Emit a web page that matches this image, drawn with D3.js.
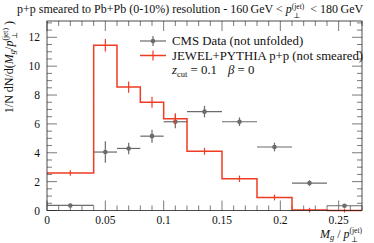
<!DOCTYPE html>
<html>
<head>
<meta charset="utf-8">
<script src="https://cdn.jsdelivr.net/npm/d3@7"></script>
<style>
  body { margin: 0; background: #fff; }
  text { font-family: "Liberation Serif", "DejaVu Serif", serif; fill: #111; }
</style>
</head>
<body>
<div id="chart"></div>
<script>
// bin edges along M_g / p_T
var binEdges = [0, 0.04, 0.06, 0.08, 0.1, 0.12, 0.15, 0.18, 0.21, 0.24, 0.27];
// CMS data (not unfolded)
var cmsValues = [0.35, 4.05, 4.3, 5.15, 6.15, 6.85, 6.15, 4.4, 1.9, 0.33];
var cmsErrors = [0.1, 0.75, 0.4, 0.45, 0.45, 0.4, 0.3, 0.3, 0.2, 0.1];
// JEWEL+PYTHIA p+p (not smeared)
var jewelValues = [2.6, 11.45, 8.55, 7.5, 6.35, 4.1, 2.2, 0.9, 0.03, 0];
var jewelErrors = [0.05, 0.3, 0.25, 0.25, 0.25, 0.1, 0.08, 0.06, 0.02, 0];

var xTicks = [0, 0.05, 0.1, 0.15, 0.2, 0.25];
var xTickLabels = ["0", "0.05", "0.1", "0.15", "0.2", "0.25"];
var yTicks = [0, 2, 4, 6, 8, 10, 12];

var width = 374, height = 243;
var pLeft = 47, pRight = 362, pTop = 21, pBottom = 210.5;

var svg = d3.select("#chart").append("svg")
  .attr("width", width).attr("height", height);

var x = d3.scaleLinear().domain([0, 0.27]).range([pLeft, pRight]);
var y = d3.scaleLinear().domain([0, 13.13]).range([pBottom, pTop]);

var red = "#ee3b22", grey = "#6b6b6b";

var bins = binEdges.slice(0, -1).map(function(lo, i) {
  return {lo: lo, hi: binEdges[i + 1], mid: (lo + binEdges[i + 1]) / 2,
          cms: cmsValues[i], cmsErr: cmsErrors[i],
          jw: jewelValues[i], jwErr: jewelErrors[i]};
});

// ticks: inward on all four sides
var minorX = d3.range(0, 0.2701, 0.01);
var minorY = d3.range(0, 13.01, 0.5);
var tickG = svg.append("g").attr("stroke", "#222").attr("stroke-width", 0.6);
minorX.forEach(function(v) {
  var major = xTicks.some(function(t) { return Math.abs(t - v) < 1e-6; });
  var len = major ? 10 : 5;
  tickG.append("line").attr("x1", x(v)).attr("x2", x(v)).attr("y1", pBottom).attr("y2", pBottom - len);
  tickG.append("line").attr("x1", x(v)).attr("x2", x(v)).attr("y1", pTop).attr("y2", pTop + len);
});
minorY.forEach(function(v) {
  var major = yTicks.indexOf(Math.round(v * 10) / 10) >= 0;
  var len = major ? 10 : 5;
  tickG.append("line").attr("y1", y(v)).attr("y2", y(v)).attr("x1", pLeft).attr("x2", pLeft + len);
  tickG.append("line").attr("y1", y(v)).attr("y2", y(v)).attr("x1", pRight).attr("x2", pRight - len);
});

// CMS data: horizontal bin bars, vertical errors, markers
var cms = svg.append("g").attr("stroke", grey).attr("stroke-width", 1.2);
cms.selectAll(".hbar").data(bins).enter().append("line")
  .attr("x1", function(d) { return x(d.lo); })
  .attr("x2", function(d) { return x(d.hi); })
  .attr("y1", function(d) { return y(d.cms); })
  .attr("y2", function(d) { return y(d.cms); });
cms.selectAll(".vbar").data(bins).enter().append("line")
  .attr("x1", function(d) { return x(d.mid); })
  .attr("x2", function(d) { return x(d.mid); })
  .attr("y1", function(d) { return y(d.cms - d.cmsErr); })
  .attr("y2", function(d) { return y(d.cms + d.cmsErr); });
svg.selectAll(".cmsdot").data(bins).enter().append("circle")
  .attr("cx", function(d) { return x(d.mid); })
  .attr("cy", function(d) { return y(d.cms); })
  .attr("r", 2.3).attr("fill", grey);

// JEWEL histogram as step line
var steps = [];
bins.forEach(function(d) { steps.push([d.lo, d.jw]); steps.push([d.hi, d.jw]); });
svg.append("path")
  .attr("d", d3.line().x(function(p) { return x(p[0]); }).y(function(p) { return y(p[1]); })(steps))
  .attr("fill", "none").attr("stroke", red).attr("stroke-width", 1.5);
svg.selectAll(".jwerr").data(bins).enter().append("line")
  .attr("x1", function(d) { return x(d.mid); })
  .attr("x2", function(d) { return x(d.mid); })
  .attr("y1", function(d) { return y(d.jw - d.jwErr) + 2; })
  .attr("y2", function(d) { return y(d.jw + d.jwErr) - 2; })
  .attr("stroke", red).attr("stroke-width", 1.2);

// frame
svg.append("rect").attr("x", pLeft).attr("y", pTop)
  .attr("width", pRight - pLeft).attr("height", pBottom - pTop)
  .attr("fill", "none").attr("stroke", "#222").attr("stroke-width", 0.8);

// tick labels
svg.selectAll(".xl").data(xTicks).enter().append("text")
  .attr("x", function(d) { return x(d); }).attr("y", 224)
  .attr("text-anchor", "middle").attr("font-size", 11.5)
  .text(function(d, i) { return xTickLabels[i]; });
svg.selectAll(".yl").data(yTicks).enter().append("text")
  .attr("x", 40).attr("y", function(d) { return y(d) + 4; })
  .attr("text-anchor", "end").attr("font-size", 11.5)
  .text(function(d) { return d; });

// title
var title = svg.append("text").attr("x", 17).attr("y", 13).attr("font-size", 12);
title.append("tspan").text("p+p smeared to Pb+Pb (0-10%) resolution - 160\u2009GeV < ");
title.append("tspan").attr("font-style", "italic").text("p");
title.append("tspan").attr("font-size", 7.5).attr("dy", -4.5).text("(jet)");
title.append("tspan").attr("font-size", 7.5).attr("dx", -11).attr("dy", 9).text("\u22a5");
title.append("tspan").attr("dx", 7).attr("dy", -4.5).text(" < 180\u2009GeV");

// x label
var xl = svg.append("text").attr("x", pRight).attr("y", 238)
  .attr("text-anchor", "end").attr("font-size", 12);
xl.append("tspan").attr("font-style", "italic").text("M");
xl.append("tspan").attr("font-style", "italic").attr("font-size", 8.5).attr("dy", 2).text("g");
xl.append("tspan").attr("dy", -2).text(" / ");
xl.append("tspan").attr("font-style", "italic").text("p");
xl.append("tspan").attr("font-size", 7.5).attr("dy", -5).text("(jet)");
xl.append("tspan").attr("font-size", 7.5).attr("dx", -11).attr("dy", 9).text("\u22a5");

// y label
var yl = svg.append("text").attr("transform", "translate(13," + pTop + ") rotate(-90)")
  .attr("text-anchor", "end").attr("font-size", 12);
yl.append("tspan").text("1/N dN/d(");
yl.append("tspan").attr("font-style", "italic").text("M");
yl.append("tspan").attr("font-style", "italic").attr("font-size", 8.5).attr("dy", 2).text("g");
yl.append("tspan").attr("dy", -2).text("/");
yl.append("tspan").attr("font-style", "italic").text("p");
yl.append("tspan").attr("font-size", 7.5).attr("dy", -5).text("(jet)");
yl.append("tspan").attr("font-size", 7.5).attr("dx", -11).attr("dy", 9).text("\u22a5");
yl.append("tspan").attr("dx", 7).attr("dy", -4).text(")");

// legend
var lg = svg.append("g");
lg.append("line").attr("x1", 140).attr("x2", 166).attr("y1", 41).attr("y2", 41)
  .attr("stroke", grey).attr("stroke-width", 1.2);
lg.append("line").attr("x1", 153).attr("x2", 153).attr("y1", 36).attr("y2", 46)
  .attr("stroke", grey).attr("stroke-width", 1.2);
lg.append("circle").attr("cx", 153).attr("cy", 41).attr("r", 2.3).attr("fill", grey);
lg.append("line").attr("x1", 140).attr("x2", 166).attr("y1", 55.5).attr("y2", 55.5)
  .attr("stroke", red).attr("stroke-width", 1.5);
lg.append("line").attr("x1", 153).attr("x2", 153).attr("y1", 50.5).attr("y2", 60.5)
  .attr("stroke", red).attr("stroke-width", 1.2);
lg.append("text").attr("x", 172).attr("y", 45).attr("font-size", 12.8).text("CMS Data (not unfolded)");
lg.append("text").attr("x", 172).attr("y", 59.5).attr("font-size", 12.8).text("JEWEL+PYTHIA p+p (not smeared)");
var zt = lg.append("text").attr("x", 172).attr("y", 74).attr("font-size", 12.8);
zt.append("tspan").attr("font-style", "italic").text("z");
zt.append("tspan").attr("font-size", 8.5).attr("dy", 2.5).text("cut");
zt.append("tspan").attr("dy", -2.5).text(" = 0.1");
zt.append("tspan").attr("dx", 11).attr("font-style", "italic").text("\u03b2");
zt.append("tspan").text(" = 0");
</script>
</body>
</html>
